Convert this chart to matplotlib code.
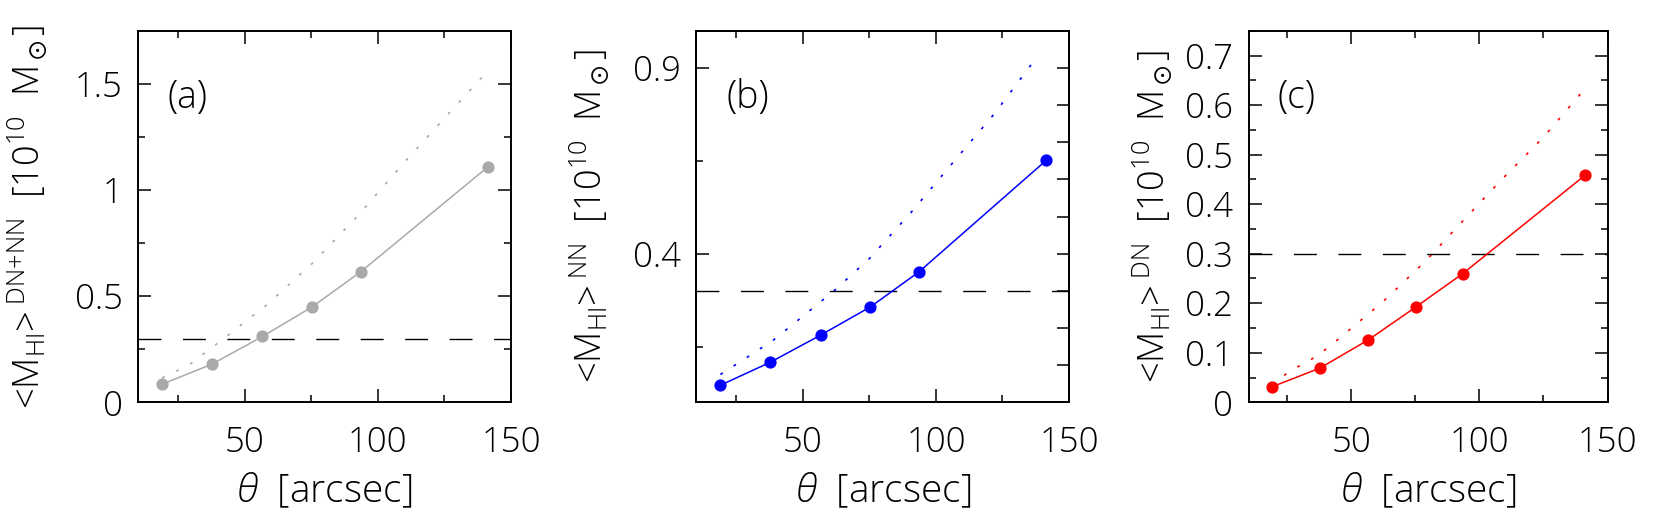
import numpy as np
import matplotlib
matplotlib.use('Agg')
import matplotlib.pyplot as plt
from matplotlib.ticker import MultipleLocator, FixedLocator

plt.rcParams['font.family'] = ['Open Sans', 'DejaVu Sans']
plt.rcParams['font.weight'] = 'light'
plt.rcParams['axes.labelweight'] = 'light'
plt.rcParams['mathtext.fontset'] = 'custom'
plt.rcParams['mathtext.rm'] = 'Open Sans:light'
plt.rcParams['mathtext.it'] = 'Open Sans:italic:light'
plt.rcParams['mathtext.default'] = 'regular'

# measured points (solid lines with dots)
theta = [19.0, 37.8, 56.7, 75.4, 93.6, 141.4]
mhi_all = [0.085, 0.18, 0.31, 0.45, 0.615, 1.11]
mhi_nn = [0.046, 0.108, 0.181, 0.257, 0.351, 0.651]
mhi_dn = [0.031, 0.069, 0.126, 0.193, 0.260, 0.459]

# dotted curves
theta_dot_all = [19, 29, 39, 44, 53, 57.6, 75.3, 92, 111, 127, 139]
dot_all = [0.115, 0.175, 0.27, 0.318, 0.407, 0.451, 0.653, 0.872, 1.145, 1.366, 1.53]
theta_dot_nn = [19, 29, 39, 48, 62, 75, 91, 106, 122, 137.5]
dot_nn = [0.075, 0.121, 0.168, 0.22, 0.302, 0.387, 0.514, 0.642, 0.777, 0.925]
theta_dot_dn = [19, 24.3, 29.3, 34.3, 39.3, 44, 62.4, 79.4, 92.3, 108.6, 125, 141.2]
dot_dn = [0.035, 0.056, 0.072, 0.086, 0.104, 0.123, 0.203, 0.287, 0.359, 0.449, 0.535, 0.633]

# horizontal reference level
m_ref = 0.3

fig = plt.figure(figsize=(16.61, 5.2), dpi=100)

panels = [
    dict(rect=[0.0831, 0.2263, 0.2246, 0.7146], y=mhi_all, tx=theta_dot_all, ty=dot_all,
         color='#a9a9a9', tag='(a)', sup='DN{+}NN', ylim=1.75, lab_x=-0.235),
    dict(rect=[0.4193, 0.2263, 0.2243, 0.7146], y=mhi_nn, tx=theta_dot_nn, ty=dot_nn,
         color='#0000ff', tag='(b)', sup='NN', ylim=1.0, lab_x=-0.228),
    dict(rect=[0.7517, 0.2263, 0.2161, 0.7146], y=mhi_dn, tx=theta_dot_dn, ty=dot_dn,
         color='#ff0000', tag='(c)', sup='DN', ylim=0.75, lab_x=-0.206),
]

for i, p in enumerate(panels):
    ax = fig.add_axes(p['rect'])
    ax.plot(theta, p['y'], '-', color=p['color'], lw=1.1, marker='o', ms=7.8,
            mec=p['color'], mfc=p['color'], zorder=3)
    ax.plot(p['tx'], p['ty'], color=p['color'], lw=1.2, linestyle=(0, (1.7, 7.7)))
    ax.axhline(m_ref, color='black', lw=1.0, linestyle=(0, (16.5, 15.5)))

    ax.set_xlim(10, 150)
    ax.set_ylim(0, p['ylim'])
    ax.xaxis.set_major_locator(FixedLocator([50, 100, 150]))
    ax.xaxis.set_minor_locator(FixedLocator([25, 75, 125]))

    if i == 0:
        ax.set_yticks([0, 0.5, 1, 1.5])
        ax.set_yticklabels(['0', '0.5', '1', '1.5'])
        ax.yaxis.set_minor_locator(FixedLocator([0.25, 0.75, 1.25]))
    elif i == 1:
        ax.set_yticks([0.4, 0.9])
        ax.set_yticklabels(['0.4', '0.9'])
        ax.yaxis.set_minor_locator(FixedLocator([0.15, 0.65]))
    else:
        ax.set_yticks([0, 0.1, 0.2, 0.3, 0.4, 0.5, 0.6, 0.7])
        ax.set_yticklabels(['0', '0.1', '0.2', '0.3', '0.4', '0.5', '0.6', '0.7'])
        ax.yaxis.set_minor_locator(MultipleLocator(0.05))

    ax.tick_params(which='both', direction='in', top=True, right=(i != 1), width=1.1,
                   labelsize=25)
    ax.tick_params(which='major', length=9.5)
    ax.tick_params(which='minor', length=5)
    ax.tick_params(axis='x', which='major', pad=17)
    ax.tick_params(axis='y', which='major', pad=11)
    for s in ax.spines.values():
        s.set_linewidth(1.4)

    if i == 1:
        # right axis has its own ticks every 0.1
        ax2 = ax.twinx()
        ax2.set_ylim(0, p['ylim'])
        ax2.set_yticks([0.1, 0.2, 0.3, 0.4, 0.5, 0.6, 0.7, 0.8, 0.9])
        ax2.tick_params(direction='in', length=9, width=1.1, labelright=False)
        for s in ax2.spines.values():
            s.set_linewidth(1.4)

    ax.set_xlabel(r'$\mathit{\theta}$  [arcsec]', fontsize=28, labelpad=8)
    ax.set_ylabel('<M$_{\\rm HI}$>$^{\\;\\rm ' + p['sup'] + '}$  [10$^{10}$  M$_\\odot$]',
                  fontsize=26)
    ax.yaxis.set_label_coords(p['lab_x'], 0.5)
    ax.text(0.08, 0.82, p['tag'], transform=ax.transAxes, fontsize=27, va='center')

fig.savefig('out.png', dpi=100)
